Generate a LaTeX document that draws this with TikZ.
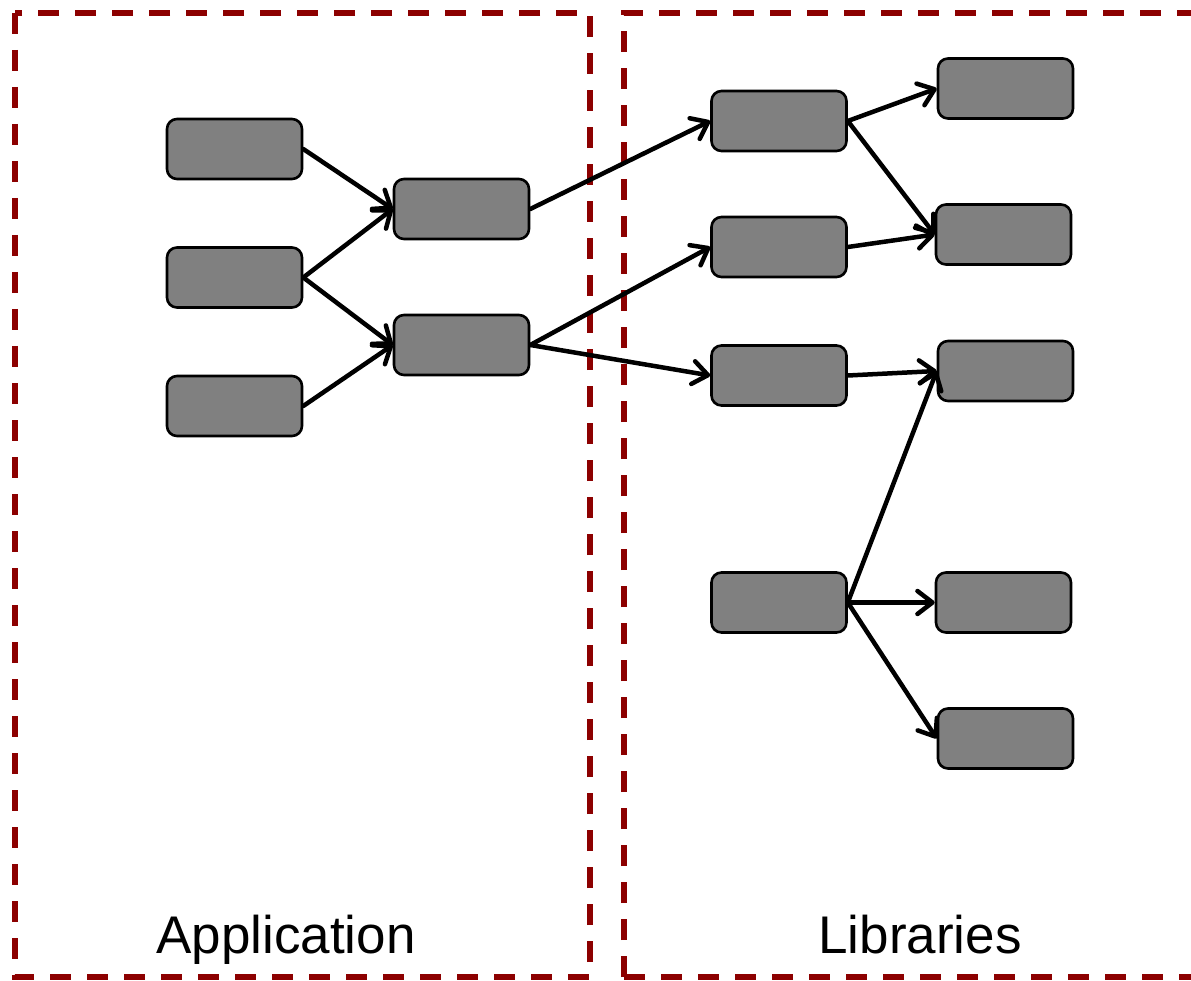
\documentclass[tikz,border=0pt]{standalone}
\usepackage{fontspec}
\setmainfont{Liberation Sans}
\usetikzlibrary{arrows.meta}
\definecolor{frame}{RGB}{140,0,0}
\definecolor{boxgrey}{RGB}{128,128,128}
\tikzset{
  blk/.style={draw=black, line width=2.6pt, fill=boxgrey, rounded corners=10pt,
              minimum width=135pt, minimum height=60pt, inner sep=0pt},
  link/.style={line width=4.5pt, line cap=round,
               -{Straight Barb[length=15pt,width=23pt,line cap=round,line join=round]}},
  region/.style={draw=frame, line width=6pt, dash pattern=on 21pt off 16pt},
  caption/.style={font=\fontsize{53}{60}\selectfont, anchor=base}
}
\begin{document}
\begin{tikzpicture}[x=1pt,y=-1pt]
\useasboundingbox (0,0) rectangle (1191,981);

% the two dashed regions
\draw[region] (15,13) rectangle (590,977);
\draw[region] (624,977) -- (624,13) -- (1230,13);
\draw[region] (624,977) -- (1230,977);

% application side
\node[blk] (a1) at (234.5,149) {};
\node[blk] (a2) at (234.5,277.5) {};
\node[blk] (a3) at (234.5,406) {};
\node[blk] (b1) at (461.5,209) {};
\node[blk] (b2) at (461.5,345) {};

% library side
\node[blk] (l1) at (779,121) {};
\node[blk] (l2) at (779,247) {};
\node[blk] (l3) at (779,375.5) {};
\node[blk] (l4) at (779,602.5) {};
\node[blk] (r1) at (1005.5,88.5) {};
\node[blk] (r2) at (1003.5,234.5) {};
\node[blk] (r3) at (1005.5,371) {};
\node[blk] (r4) at (1003.5,602.5) {};
\node[blk] (r5) at (1005.5,738.5) {};

% dependencies
\draw[link] (a1.east) -- (b1.west);
\draw[link] (a2.east) -- (b1.west);
\draw[link] (a2.east) -- (b2.west);
\draw[link] (a3.east) -- (b2.west);
\draw[link] (b1.east) -- (l1.west);
\draw[link] (b2.east) -- (l2.west);
\draw[link] (b2.east) -- (l3.west);
\draw[link] (l1.east) -- (r1.west);
\draw[link] (l1.east) -- (r2.west);
\draw[link] (l2.east) -- (r2.west);
\draw[link] (l3.east) -- (r3.west);
\draw[link] (l4.east) -- (r3.west);
\draw[link] (l4.east) -- (r4.west);
\draw[link] (l4.east) -- (r5.west);

% region captions
\node[caption] (app) at (286,953) {Application};
\node[caption] (lib) at (920,953) {Libraries};
\end{tikzpicture}
\end{document}
